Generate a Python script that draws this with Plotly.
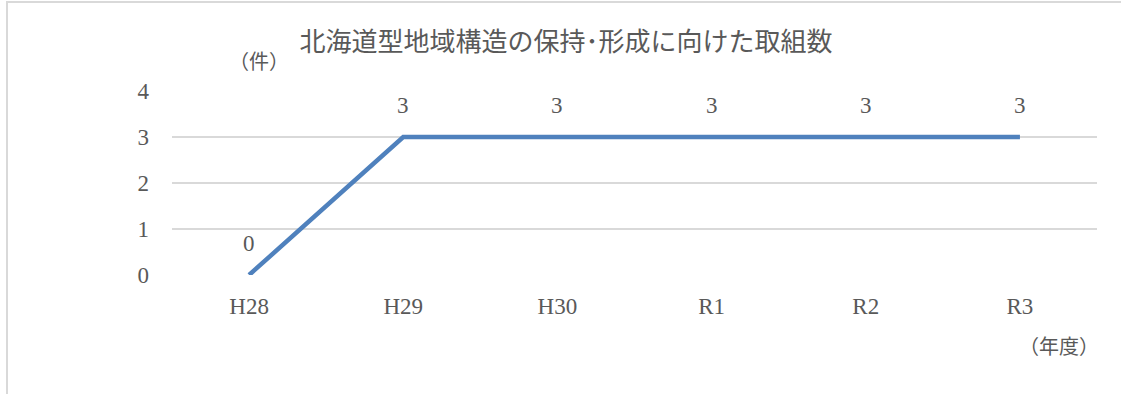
import plotly.graph_objects as go

categories = ["H28", "H29", "H30", "R1", "R2", "R3"]
values = [0, 3, 3, 3, 3, 3]
y_ticks = [0, 1, 2, 3, 4]

title_text = "北海道型地域構造の保持･形成に向けた取組数"
y_unit = "（件）"
x_unit = "（年度）"

GRAY = "#595959"
GRID = "#d9d9d9"
LINE = "#4f81bd"
SERIF = "Liberation Serif"
CJK = "Noto Sans CJK JP"

W, H = 1121, 394
ML, MR, MT, MB = 172, 24, 91, 119
PW, PH = W - ML - MR, H - MT - MB

def px_x(px):
    return (px - ML) / PW

def px_y(py):
    return (H - MB - py) / PH

fig = go.Figure()
fig.add_trace(go.Scatter(
    x=categories, y=values, mode="lines",
    line=dict(color=LINE, width=4.5),
    cliponaxis=False, hoverinfo="skip", showlegend=False,
))

for c, v in zip(categories, values):
    fig.add_annotation(x=c, y=v, text=str(v), showarrow=False, yshift=32,
                       xanchor="center", yanchor="middle",
                       font=dict(family=SERIF, size=23, color=GRAY))

fig.add_annotation(xref="paper", yref="paper", x=px_x(259), y=px_y(60),
                   xanchor="center", yanchor="middle",
                   text=y_unit, showarrow=False,
                   font=dict(family=CJK, size=20, color=GRAY))
fig.add_annotation(xref="paper", yref="paper", x=px_x(1059), y=px_y(345),
                   xanchor="center", yanchor="middle",
                   text=x_unit, showarrow=False,
                   font=dict(family=CJK, size=20, color=GRAY))

fig.add_shape(type="rect", xref="paper", yref="paper",
              x0=px_x(7), x1=px_x(1130), y0=px_y(400), y1=px_y(2),
              line=dict(color=GRID, width=2), layer="below")

fig.update_layout(
    width=W, height=H,
    margin=dict(l=ML, r=MR, t=MT, b=MB, pad=0),
    paper_bgcolor="white", plot_bgcolor="white",
    title=dict(text=title_text, x=566 / W, xanchor="center",
               y=1 - 42 / H, yanchor="middle",
               font=dict(family=CJK, size=26, color=GRAY)),
    xaxis=dict(type="category", range=[-0.5, 5.5], showgrid=False,
               showline=False, zeroline=False,
               tickfont=dict(family=SERIF, size=23, color=GRAY),
               ticks="", ticklabelstandoff=15),
    yaxis=dict(range=[0, 4], tickvals=y_ticks, showgrid=True,
               gridcolor=GRID, gridwidth=1.5, zeroline=False, showline=False,
               tickfont=dict(family=SERIF, size=23, color=GRAY),
               ticks="", ticklabelstandoff=22),
)

fig.write_html("out.html")
